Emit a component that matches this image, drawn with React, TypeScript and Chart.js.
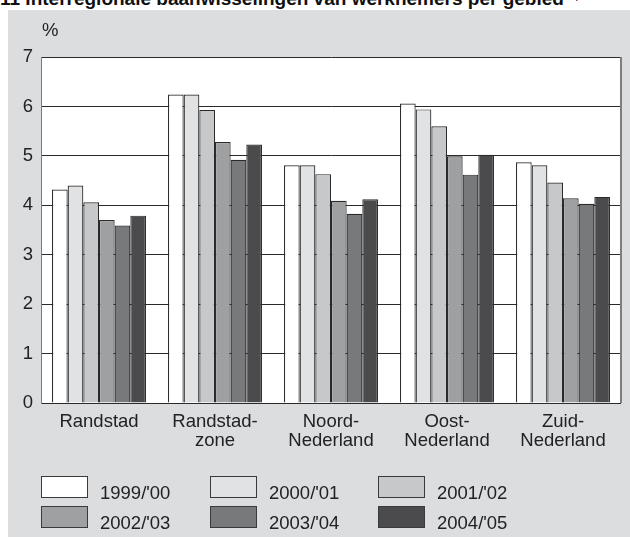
import React, { useEffect, useRef } from "react";
import { Chart, registerables } from "chart.js";

Chart.register(...registerables);

const FONT = "'Liberation Sans', Arial, Helvetica, sans-serif";

// ---- data ----
const categories = [
  ["Randstad"],
  ["Randstad-", "zone"],
  ["Noord-", "Nederland"],
  ["Oost-", "Nederland"],
  ["Zuid-", "Nederland"],
];
const seriesLabels = ["1999/'00", "2000/'01", "2001/'02", "2002/'03", "2003/'04", "2004/'05"];
const s1999 = [4.32, 6.24, 4.81, 6.06, 4.87];
const s2000 = [4.4, 6.24, 4.81, 5.94, 4.81];
const s2001 = [4.06, 5.93, 4.63, 5.6, 4.46];
const s2002 = [3.7, 5.28, 4.09, 4.99, 4.14];
const s2003 = [3.59, 4.92, 3.83, 4.62, 4.03];
const s2004 = [3.79, 5.23, 4.12, 5.02, 4.17];
const seriesValues = [s1999, s2000, s2001, s2002, s2003, s2004];
const yMin = 0;
const yMax = 7;
const yStep = 1;

// ---- styles ----
const barColors = ["#ffffff", "#e1e2e4", "#c7c8ca", "#9fa0a2", "#78797b", "#4b4b4d"];
const legendCols = [41, 210, 378];
const legendRows = [476, 506];

const plotPlugin = {
  id: "plotDecor",
  beforeDraw(chart: any) {
    const { ctx, chartArea } = chart;
    ctx.save();
    ctx.fillStyle = "#ffffff";
    ctx.fillRect(chartArea.left, chartArea.top, chartArea.right - chartArea.left, chartArea.bottom - chartArea.top);
    ctx.restore();
  },
  afterDraw(chart: any) {
    const { ctx, chartArea } = chart;
    ctx.save();
    ctx.strokeStyle = "#7d7d7f";
    ctx.lineWidth = 2;
    ctx.beginPath();
    ctx.moveTo(chartArea.right, chartArea.top);
    ctx.lineTo(chartArea.right, chartArea.bottom);
    ctx.stroke();
    ctx.restore();
  },
};

export default function App() {
  const ref = useRef<HTMLCanvasElement>(null);

  useEffect(() => {
    const canvas = ref.current;
    if (!canvas) return;
    const tickFont = { family: FONT, size: 18.5, lineHeight: 1.03 };
    const chart = new Chart(canvas, {
      type: "bar",
      data: {
        labels: categories as any,
        datasets: seriesValues.map((vals, i) => ({
          label: seriesLabels[i],
          data: vals,
          backgroundColor: barColors[i],
          borderColor: "#2a2a2a",
          borderWidth: 1.2,
          categoryPercentage: 0.81,
          barPercentage: 1,
        })),
      },
      options: {
        responsive: false,
        animation: false,
        devicePixelRatio: 1,
        layout: { padding: { left: 0, top: 47, right: 9, bottom: 0 } },
        plugins: { legend: { display: false }, tooltip: { enabled: false }, title: { display: false } },
        scales: {
          x: {
            grid: { display: false, drawTicks: false },
            border: { display: false },
            ticks: { color: "#222", font: tickFont, padding: 9, maxRotation: 0, autoSkip: false },
            afterFit: (s: any) => {
              s.height = 134;
            },
          },
          y: {
            min: yMin,
            max: yMax,
            ticks: { stepSize: yStep, color: "#222", font: { family: FONT, size: 18.5 }, padding: 8 },
            grid: { color: "#2a2a2a", lineWidth: 1, drawTicks: false },
            border: { color: "#7a7a7a", width: 1 },
            afterFit: (s: any) => {
              s.width = 33;
            },
          },
        },
      } as any,
      plugins: [plotPlugin],
    });
    return () => chart.destroy();
  }, []);

  return (
    <div style={{ position: "relative", width: 630, height: 537, overflow: "hidden", background: "#ffffff", fontFamily: FONT }}>
      <style>{`html,body{margin:0;padding:0;overflow:hidden;}`}</style>
      <div
        style={{
          position: "absolute",
          left: 0,
          top: -16,
          fontSize: 19,
          lineHeight: "20px",
          fontWeight: "bold",
          color: "#111",
          whiteSpace: "nowrap",
        }}
      >
        11 Interregionale baanwisselingen van werknemers per gebied <sup style={{ fontSize: 12, fontWeight: "normal" }}>1)</sup>
      </div>
      <div style={{ position: "absolute", left: 8, top: 10, width: 622, height: 527, background: "#dcdddf" }}>
        <canvas ref={ref} width={622} height={527} style={{ display: "block", width: 622, height: 527 }} />
      </div>
      <span style={{ position: "absolute", left: 42, top: 20, fontSize: 18.5, lineHeight: "20px", color: "#222" }}>%</span>
      {seriesLabels.map((lab, i) => {
        const col = i % 3;
        const row = Math.floor(i / 3);
        const x = legendCols[col];
        const y = legendRows[row];
        return (
          <React.Fragment key={lab}>
            <div
              style={{
                position: "absolute",
                left: x,
                top: y,
                width: 47,
                height: 22,
                boxSizing: "border-box",
                border: "1px solid #3a3a3a",
                background: barColors[i],
              }}
            />
            <div
              style={{
                position: "absolute",
                left: x + 59,
                top: y + 6,
                fontSize: 18.5,
                lineHeight: "22px",
                color: "#222",
                whiteSpace: "nowrap",
              }}
            >
              {lab}
            </div>
          </React.Fragment>
        );
      })}
    </div>
  );
}
